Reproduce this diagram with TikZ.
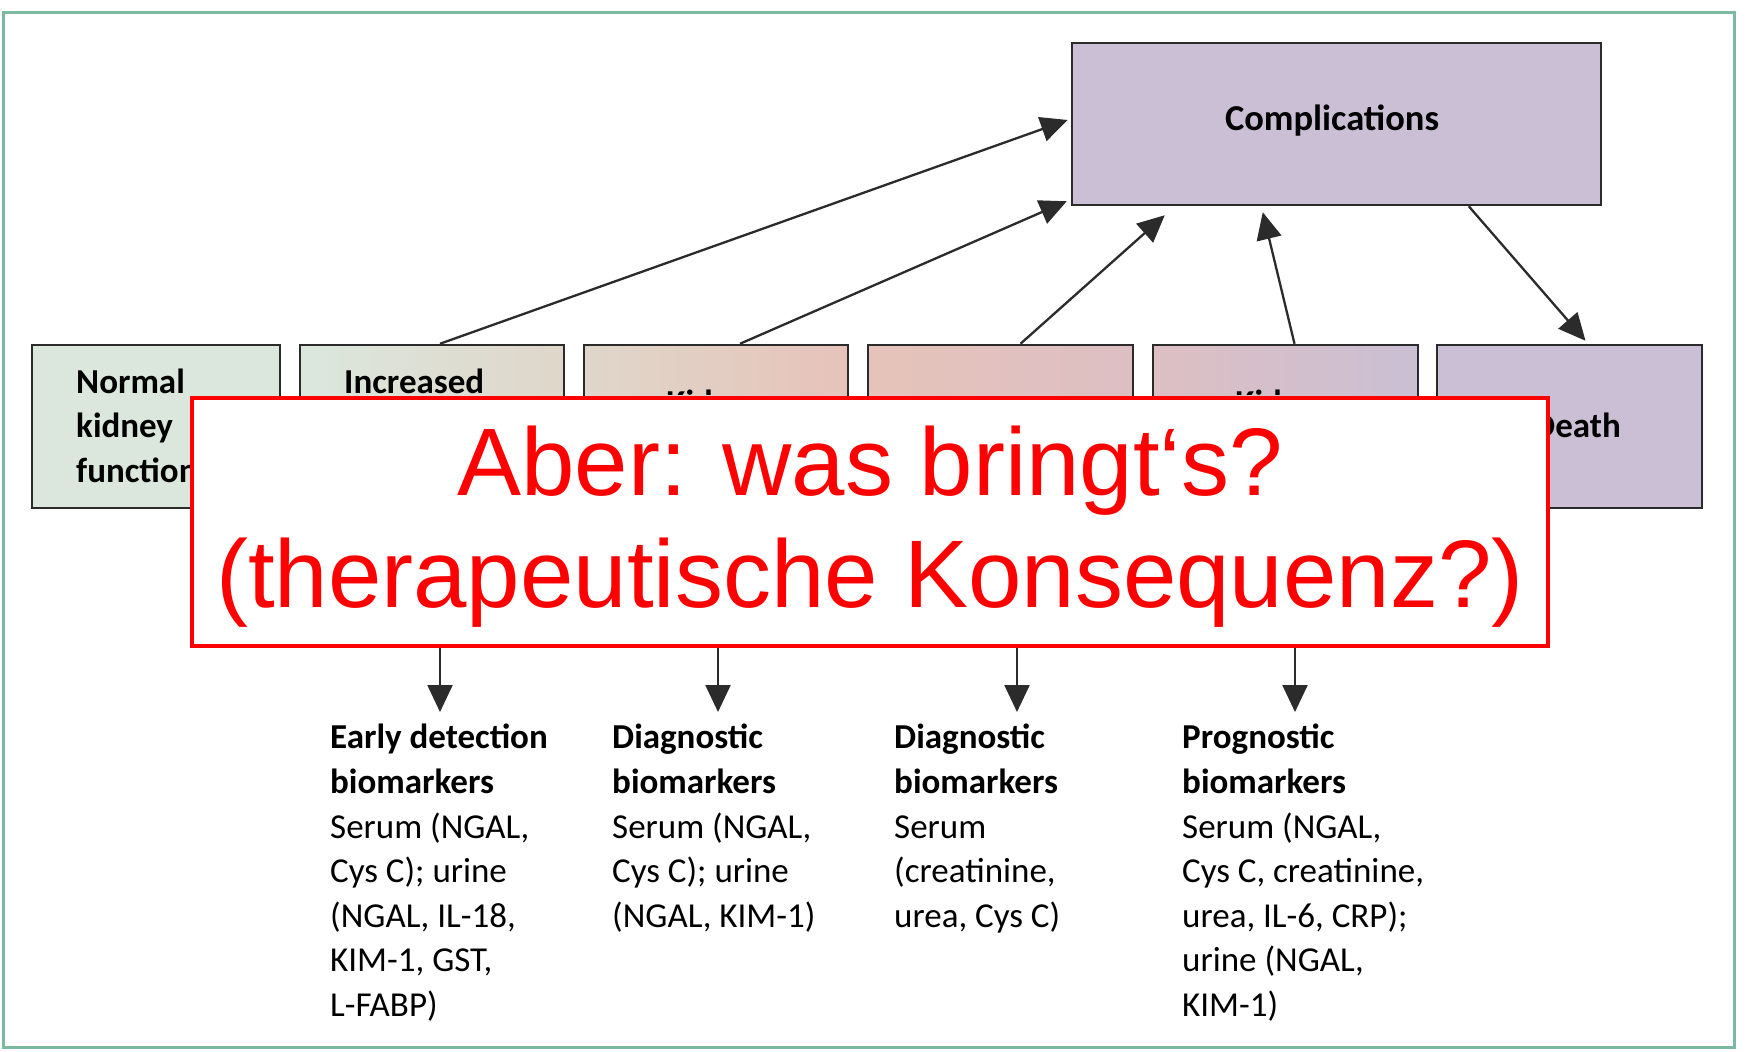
\documentclass[tikz,border=0pt]{standalone}
\usepackage{fontspec}
\setmainfont{Carlito}
\newfontfamily\arialfont{Liberation Sans}
\usetikzlibrary{arrows.meta,calc}
\definecolor{kgreen}{HTML}{DBE7DD}
\definecolor{kbeige}{HTML}{E0D6CA}
\definecolor{kpink}{HTML}{E6C3BA}
\definecolor{kmauve}{HTML}{DDBFC3}
\definecolor{klav}{HTML}{CABFD4}
\definecolor{kline}{HTML}{2B2B2B}
\definecolor{kframe}{HTML}{7DB9A0}
\begin{document}
\begin{tikzpicture}[x=1pt,y=-1pt,
  stagebox/.style={draw=kline,line width=2.5pt,minimum height=163pt,inner sep=0pt},
  boxtext/.style={inner sep=0pt,font=\fontsize{35}{44.6}\selectfont\bfseries,align=left},
  biotext/.style={inner sep=0pt,anchor=north west,font=\fontsize{35}{44.6}\selectfont,align=left},
  arr/.style={draw=kline,line width=2.3pt,-{Triangle[length=27pt,width=25pt]}},
  notebox/.style={draw=red,line width=4pt,fill=white,minimum width=1356pt,minimum height=248pt,inner sep=0pt},
  notetext/.style={text=red,align=center,inner sep=0pt,font=\arialfont\fontsize{96}{112}\selectfont}]
\useasboundingbox[fill=white] (0,0) rectangle (1748,1052);

% stage boxes
\node[stagebox,minimum width=248pt,fill=kgreen] (box1) at (156,426.5) {};
\node[stagebox,minimum width=264pt,left color=kgreen,right color=kbeige] (box2) at (432,426.5) {};
\node[stagebox,minimum width=264pt,left color=kbeige,right color=kpink] (box3) at (716,426.5) {};
\node[stagebox,minimum width=265pt,left color=kpink,right color=kmauve] (box4) at (1000.5,426.5) {};
\node[stagebox,minimum width=265pt,left color=kmauve,right color=klav] (box5) at (1285.5,426.5) {};
\node[stagebox,minimum width=265pt,fill=klav] (death) at (1569.5,426.5) {};
\node[draw=kline,line width=2.5pt,fill=klav,minimum width=529pt,minimum height=162pt,inner sep=0pt] (comp) at (1336.5,124) {};

% box texts
\node[boxtext,anchor=north west] (t1) at (76,368.5) {Normal\\kidney\\function};
\node[boxtext,anchor=north west] (t2) at (344,368.5) {Increased};
\begin{scope}
\clip (583,344) rectangle (1419,394);
\node[boxtext,anchor=base] (t3) at (716,414) {Kidney};
\node[boxtext,anchor=base] (t5) at (1285,414) {Kidney};
\end{scope}
\node[boxtext,anchor=base] (t6) at (1577,437) {Death};
\node[boxtext,font=\fontsize{36.5}{44}\selectfont\bfseries] (tc) at (1332,121) {Complications};

% arrows to complications and death
\draw[arr] ($(box2.north)+(8,0)$) -- ($(comp.west)+(-3,-4)$);
\draw[arr] ($(box3.north)+(24,0)$) -- ($(comp.south west)+(-4,-5)$);
\draw[arr] ($(box4.north)+(20,0)$) -- ($(comp.south west)+(94,9)$);
\draw[arr] ($(box5.north)+(9,0)$) -- ($(comp.south west)+(192,6)$);
\draw[arr] ($(comp.south west)+(398,0)$) -- ($(death.north)+(16,-3)$);

% down arrows to biomarkers
\coordinate (d1) at (440,712);
\coordinate (d2) at (718,712);
\coordinate (d3) at (1017,712);
\coordinate (d4) at (1295,712);
\draw[arr] ($(box2.south)+(8,0)$) -- (d1);
\draw[arr] ($(box3.south)+(2,0)$) -- (d2);
\draw[arr] ($(box4.south)+(16.5,0)$) -- (d3);
\draw[arr] ($(box5.south)+(9.5,0)$) -- (d4);

% biomarker texts
\node[biotext] (b1) at (330,724) {\textbf{Early detection}\\\textbf{biomarkers}\\Serum (NGAL,\\Cys C); urine\\(NGAL, IL-18,\\KIM-1, GST,\\L-FABP)};
\node[biotext] (b2) at (612,724) {\textbf{Diagnostic}\\\textbf{biomarkers}\\Serum (NGAL,\\Cys C); urine\\(NGAL, KIM-1)};
\node[biotext] (b3) at (894,724) {\textbf{Diagnostic}\\\textbf{biomarkers}\\Serum\\(creatinine,\\urea, Cys C)};
\node[biotext] (b4) at (1182,724) {\textbf{Prognostic}\\\textbf{biomarkers}\\Serum (NGAL,\\Cys C, creatinine,\\urea, IL-6, CRP);\\urine (NGAL,\\KIM-1)};

% overlay note
\node[notebox] (note) at (870,522) {};
\node[notetext] (notetxt) at (870,527) {Aber: was bringt‘s?\\(therapeutische Konsequenz?)};

% frame
\draw[kframe,line width=3pt] (3,12) rectangle (1734,1047);
\end{tikzpicture}
\end{document}
